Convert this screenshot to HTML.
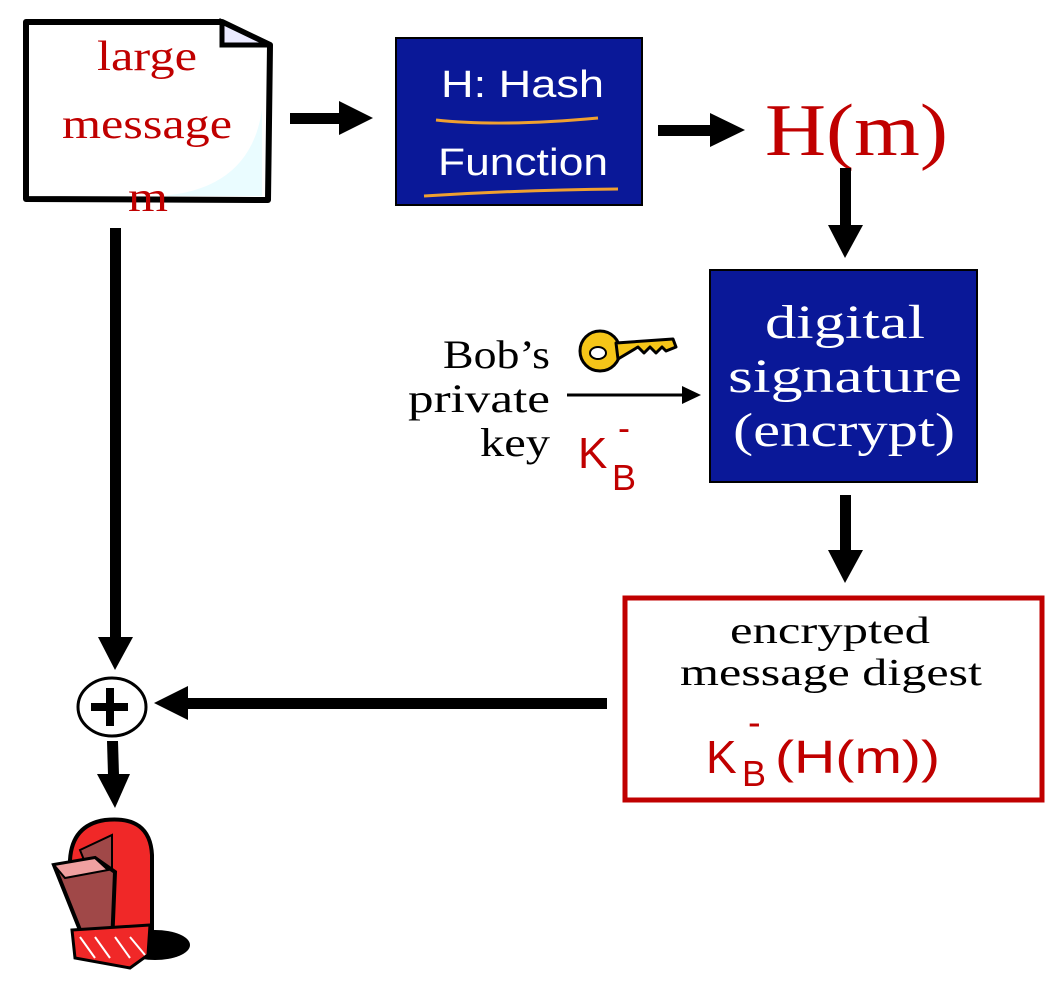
<!DOCTYPE html>
<html><head><meta charset="utf-8"><style>
body{margin:0;background:#fff;width:1058px;height:1000px;overflow:hidden}
svg{display:block}
.serif{font-family:"Liberation Serif",serif}
.sans{font-family:"Liberation Sans",sans-serif}
</style></head><body>
<svg width="1058" height="1000" viewBox="0 0 1058 1000">
<!-- document -->
<path d="M26,22 L222,22 L270,45 L268,200 L26,199 Z" fill="#fff" stroke="#000" stroke-width="6" stroke-linejoin="round"/>
<path d="M222,22 L222,45 L270,45 Z" fill="#ebeaff" stroke="#000" stroke-width="5"/>
<path d="M160,196 Q250,190 262,110 L262,196 Z" fill="#eafcff"/>
<g class="serif" fill="#c00000" font-size="42">
<text x="97" y="70" textLength="100" lengthAdjust="spacingAndGlyphs">large</text>
<text x="62" y="138" textLength="170" lengthAdjust="spacingAndGlyphs">message</text>
<text x="128" y="211" textLength="40" lengthAdjust="spacingAndGlyphs">m</text>
</g>
<!-- arrow 1 -->
<rect x="290" y="113" width="52" height="11" fill="#000"/>
<polygon points="339,101 373,118 339,135" fill="#000"/>
<!-- hash box -->
<rect x="396" y="38" width="246" height="167" fill="#0a1898" stroke="#000" stroke-width="2"/>
<g class="sans" fill="#fff" font-size="38">
<text x="441" y="97" textLength="163" lengthAdjust="spacingAndGlyphs">H: Hash</text>
<text x="438" y="175" textLength="170" lengthAdjust="spacingAndGlyphs">Function</text>
</g>
<path d="M436,120 Q500,127 598,118" stroke="#f0a030" stroke-width="3" fill="none"/>
<path d="M424,196 Q520,190 618,189" stroke="#f0a030" stroke-width="3" fill="none"/>
<!-- arrow 2 -->
<rect x="658" y="125" width="55" height="11" fill="#000"/>
<polygon points="710,113 745,130 710,147" fill="#000"/>
<text x="765" y="155" class="serif" fill="#c00000" font-size="74" textLength="183" lengthAdjust="spacingAndGlyphs">H(m)</text>
<!-- down arrow -->
<rect x="840" y="168" width="11" height="60" fill="#000"/>
<polygon points="828,225 863,225 845,258" fill="#000"/>
<!-- digital signature -->
<rect x="710" y="270" width="267" height="212" fill="#0a1898" stroke="#000" stroke-width="2"/>
<g class="serif" fill="#fff" font-size="48">
<text x="765" y="338" textLength="160" lengthAdjust="spacingAndGlyphs">digital</text>
<text x="728" y="392" textLength="234" lengthAdjust="spacingAndGlyphs">signature</text>
<text x="733" y="446" textLength="222" lengthAdjust="spacingAndGlyphs">(encrypt)</text>
</g>
<!-- Bob's private key -->
<g class="serif" fill="#000" font-size="40">
<text x="443" y="368" textLength="107" lengthAdjust="spacingAndGlyphs">Bob’s</text>
<text x="408" y="412" textLength="142" lengthAdjust="spacingAndGlyphs">private</text>
<text x="480" y="456" textLength="70" lengthAdjust="spacingAndGlyphs">key</text>
</g>
<!-- key icon -->
<g transform="translate(578,325)">
<ellipse cx="22" cy="26" rx="20" ry="20" fill="#f5c518" stroke="#000" stroke-width="3"/>
<ellipse cx="20" cy="28" rx="8" ry="6" fill="#fff" stroke="#000" stroke-width="2"/>
<path d="M38,18 L95,14 L98,22 L88,26 L84,22 L78,28 L72,22 L66,28 L60,22 L40,34 Z" fill="#f5c518" stroke="#000" stroke-width="3" stroke-linejoin="round"/>
</g>
<line x1="567" y1="395" x2="685" y2="395" stroke="#000" stroke-width="3"/>
<polygon points="682,386 701,395 682,404" fill="#000"/>
<g class="sans" fill="#c00000">
<text x="578" y="468" font-size="44">K</text>
<text x="612" y="490" font-size="36">B</text>
<text x="618" y="440" font-size="36">-</text>
</g>
<!-- down arrow 2 -->
<rect x="840" y="495" width="11" height="58" fill="#000"/>
<polygon points="828,550 863,550 845,583" fill="#000"/>
<!-- encrypted box -->
<rect x="625" y="598" width="417" height="202" fill="#fff" stroke="#c00000" stroke-width="5"/>
<g class="serif" fill="#000" font-size="38">
<text x="730" y="643" textLength="200" lengthAdjust="spacingAndGlyphs">encrypted</text>
<text x="680" y="685" textLength="302" lengthAdjust="spacingAndGlyphs">message digest</text>
</g>
<g class="sans" fill="#c00000">
<text x="706" y="773" font-size="46">K</text>
<text x="742" y="786" font-size="36">B</text>
<text x="775" y="773" font-size="46" textLength="165" lengthAdjust="spacingAndGlyphs">(H(m))</text>
<text x="748" y="735" font-size="38">-</text>
</g>
<!-- left arrow -->
<rect x="185" y="698" width="422" height="11" fill="#000"/>
<polygon points="188,686 154,703 188,720" fill="#000"/>
<!-- left vertical -->
<rect x="110" y="228" width="11" height="412" fill="#000"/>
<polygon points="98,637 133,637 115,670" fill="#000"/>
<!-- circle plus -->
<ellipse cx="112" cy="707" rx="34" ry="29" fill="#fff" stroke="#000" stroke-width="3"/>
<rect x="91" y="703" width="37" height="8" fill="#000"/>
<rect x="106" y="688" width="8" height="38" fill="#000"/>
<!-- down arrow to mailbox -->
<polygon points="107,741 118,741 119,775 108,775" fill="#000"/>
<polygon points="97,774 130,774 115,808" fill="#000"/>
<!-- mailbox -->
<ellipse cx="155" cy="945" rx="35" ry="15" fill="#000"/>
<path d="M70,860 Q72,825 105,820 Q150,815 152,855 L152,935 L112,960 L72,870 Z" fill="#f02828" stroke="#000" stroke-width="4"/>
<path d="M80,850 L112,835 L112,870 L88,870 Z" fill="#a04848" stroke="#000" stroke-width="2"/>
<path d="M54,865 L95,858 L115,872 L112,945 L80,930 Z" fill="#a04848" stroke="#000" stroke-width="4"/>
<path d="M54,865 L95,858 L108,870 L65,878 Z" fill="#f0a0a0" stroke="#000" stroke-width="2"/>
<path d="M72,930 L150,925 L148,955 L130,968 L75,958 Z" fill="#f02828" stroke="#000" stroke-width="3"/>
<path d="M80,937 L95,958 M95,937 L110,958 M115,937 L130,958 M130,937 L145,955" stroke="#fff" stroke-width="2"/>
</svg>
</body></html>
